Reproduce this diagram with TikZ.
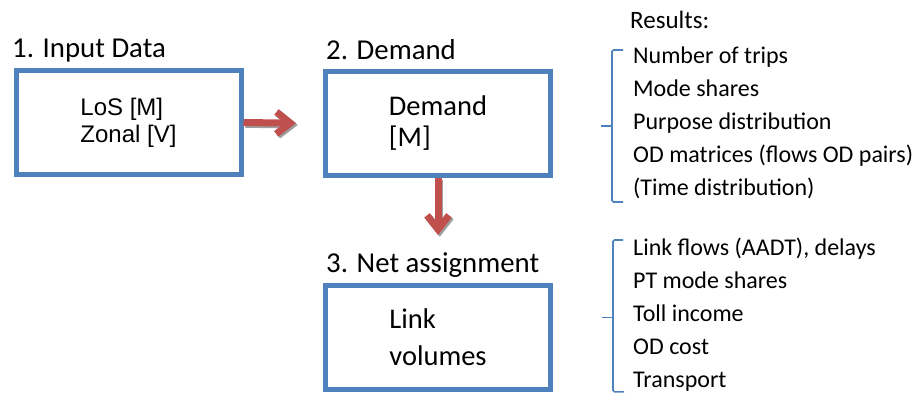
\documentclass[tikz,border=0pt]{standalone}
\usepackage{fontspec}
\setmainfont{Carlito}
\newfontfamily\arialfont{Liberation Sans}
\usetikzlibrary{arrows.meta, calc}
\definecolor{boxblue}{HTML}{4F81BD}
\definecolor{arrowred}{HTML}{C0504D}
\tikzset{
    stagebox/.style={draw=boxblue, line width=5pt, minimum width=225pt, minimum height=104pt, align=left, inner sep=0pt}, % the three model steps
    heading/.style={anchor=base west, inner sep=0pt, font=\fontsize{28.8}{34}\selectfont}, % step titles above the boxes
    flowarrow/.style={draw=arrowred, line width=7pt, -{Straight Barb[length=14pt, width=22pt]}}, % thick red arrows
    flowshadow/.style={flowarrow, draw=gray!75}, % grey shadow under the arrows
    item/.style={anchor=base west, inner sep=0pt, font=\fontsize{24}{28}\selectfont}, % one line of the results
    brace/.style={draw=boxblue, line width=1.6pt, rounded corners=1.5pt}, % bracket round a list
}

\begin{document}
\begin{tikzpicture}[x=1pt, y=-1pt]
    \useasboundingbox (0,0) rectangle (916,392);
    \clip (0,0) rectangle (916,392);

    \node[stagebox, font=\arialfont\fontsize{24}{27}\selectfont] (input) at (128.5,122.5) {LoS [M]\\Zonal [V]};
    \node[stagebox, font=\fontsize{28.5}{31}\selectfont] (demand) at (438,123.5) {Demand\\{[M]}};
    \node[stagebox, font=\fontsize{28.5}{37}\selectfont] (assign) at (438,337.5) {Link\\volumes};

    \node[heading] (hinput) at (12,57) {1. Input Data};
    \node[heading] (hdemand) at (326,59) {2. Demand};
    \node[heading] (hassign) at (326,272) {3. Net assignment};
    \node[item, font=\fontsize{25}{28}\selectfont] (results) at (630,28) {Results:};

    % arrows, shadow first
    \begin{scope}[transform canvas={shift={(1.8,1.8)}}]
        \draw[flowshadow, shorten >=27pt] (input.east) -- (demand.west);
        \draw[flowshadow, shorten >=48pt] (demand.south) -- (assign.north);
    \end{scope}
    \draw[flowarrow, shorten >=27pt] (input.east) -- (demand.west);
    \draw[flowarrow, shorten >=48pt] (demand.south) -- (assign.north);

    % results of the demand step
    \foreach \txt [count=\i] in {Number of trips, Mode shares, Purpose distribution, OD matrices (flows OD pairs), (Time distribution)}
        \node[item] (dr\i) at (633,30+33*\i) {\txt};
    \draw[brace] ($(dr1.base west)+(-10,-13)$) -| ($(dr5.base west)+(-21,7)$) -- ++(11,0);
    \draw[brace] ($(dr1.base west)!.5!(dr5.base west)+(-21,-3)$) -- ++(-11,0);

    % results of the assignment step
    \foreach \txt [count=\i] in {{Link flows (AADT), delays}, PT mode shares, Toll income, OD cost, Transport}
        \node[item] (ar\i) at (633,221.8+33.2*\i) {\txt};
    \draw[brace] ($(ar1.base west)+(-10,-15)$) -| ($(ar5.base west)+(-20,4)$) -- ++(11,0);
    \draw[brace] ($(ar1.base west)!.5!(ar5.base west)+(-20,-4)$) -- ++(-11,0);
\end{tikzpicture}
\end{document}
